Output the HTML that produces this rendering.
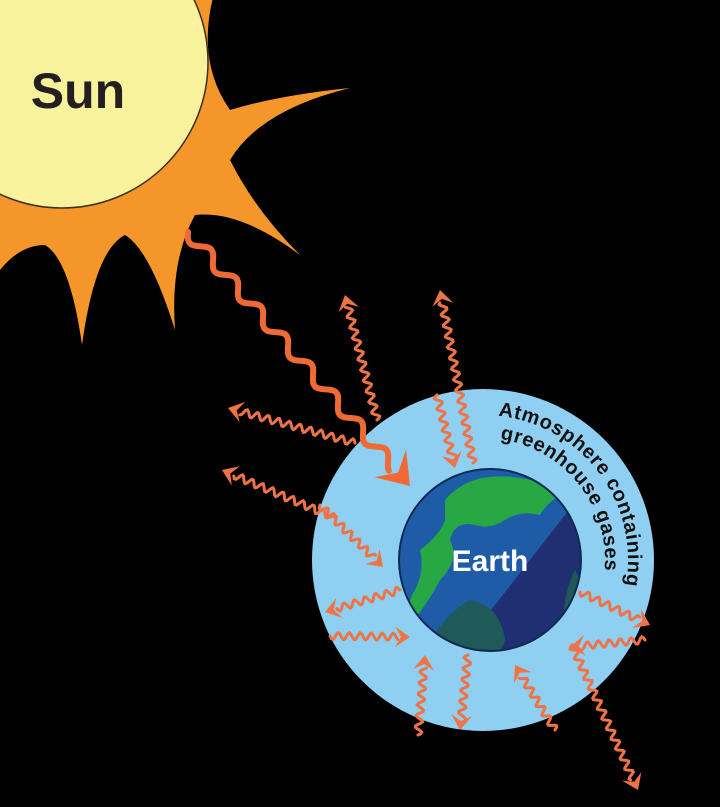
<!DOCTYPE html>
<html><head><meta charset="utf-8"><style>
html,body{margin:0;padding:0;background:#000;}
svg{display:block}
</style></head><body>
<svg id="scene" width="720" height="807" viewBox="0 0 720 807" xmlns="http://www.w3.org/2000/svg">
<rect width="720" height="807" fill="#000"/>
<g>
  <path fill="#f5962a" d="M0,-10 L215,-10 Q195,60 230,110 Q280,95 350,88 Q260,110 230,160 Q255,210 300,255 Q240,210 195,215 Q170,260 175,330 Q150,250 125,235 Q95,250 82,345 Q70,260 45,245 Q20,245 0,270 Z"/>
  <circle cx="62" cy="62" r="146" fill="#f9f29c" stroke="#3a3020" stroke-width="1.5"/>
  <text x="78" y="108" text-anchor="middle" font-family="Liberation Sans, sans-serif" font-weight="bold" font-size="50" fill="#231f20">Sun</text>
</g>
<g>
  <circle cx="483" cy="560" r="171" fill="#8fd0f2"/>
</g>
<defs>
  <clipPath id="ec"><circle cx="490" cy="560" r="91"/></clipPath>
  <path id="arc1" d="M 498.2 415.8 A 145 145 0 0 1 625.8 585.2"/>
  <path id="arc2" d="M 500 439.2 A 122 122 0 0 1 603.8 577"/>
</defs>
<g clip-path="url(#ec)">
  <rect x="395" y="465" width="190" height="190" fill="#1f5ca8"/>
  <polygon points="390,740 600,470 600,660" fill="#202f72"/>
  <path fill="#27a844" d="M445,500 Q470,470 520,478 Q550,482 560,495 Q545,505 540,515 Q520,510 505,520 Q490,530 475,525 Q455,520 450,540 Q460,560 440,580 Q430,600 410,625 Q405,605 415,590 Q425,570 420,550 Q440,535 445,520 Z"/>
  <path fill="#1f5a58" d="M430,640 Q450,610 470,600 Q500,605 505,640 Q500,660 470,660 Z"/>
  <path fill="#1f5a58" d="M575,570 Q560,600 565,640 Q585,630 590,600 Z"/>
</g>
<circle cx="490" cy="560" r="91" fill="none" stroke="#0d2a55" stroke-width="2"/>
<text x="490" y="571" text-anchor="middle" font-family="Liberation Sans, sans-serif" font-weight="bold" font-size="30" fill="#fff">Earth</text>
<text font-family="Liberation Sans, sans-serif" font-weight="bold" font-size="20" fill="#111"><textPath href="#arc1" textLength="238" lengthAdjust="spacing">Atmosphere containing</textPath></text>
<text font-family="Liberation Sans, sans-serif" font-weight="bold" font-size="20" fill="#111"><textPath href="#arc2" textLength="185" lengthAdjust="spacing">greenhouse gases</textPath></text>
<g id="arrows"></g>
</svg>
<script>
// [x1,y1,x2,y2] tail -> head
var arrowTails=[[377,420],[473,463],[355,443],[335,518],[437,395],[320,505],[400,590],[330,636],[418,735],[468,655],[555,730],[580,592],[645,640],[572,645]];
var arrowHeads=[[345,295],[440,290],[228,408],[222,470],[455,468],[383,567],[325,612],[410,637],[425,655],[460,730],[515,665],[650,625],[570,647],[638,790]];
var NS="http://www.w3.org/2000/svg";
var g=document.getElementById('arrows');
function wave(x1,y1,x2,y2,amp,wl,w,col,head,name){
  var dx=x2-x1,dy=y2-y1,L=Math.hypot(dx,dy),ux=dx/L,uy=dy/L,nx=-uy,ny=ux;
  var end=L-head*0.8,d='';
  for(var s=0;s<=end;s+=1.5){
    var o=amp*Math.sin(s/wl*2*Math.PI);
    d+=(s?'L':'M')+(x1+ux*s+nx*o).toFixed(1)+','+(y1+uy*s+ny*o).toFixed(1);
  }
  var p=document.createElementNS(NS,'path');
  p.setAttribute('d',d);p.setAttribute('fill','none');p.setAttribute('stroke',col);
  p.setAttribute('stroke-width',w);p.setAttribute('stroke-linecap','round');
  
  
  g.appendChild(p);
  var hb=head,hw=head*0.7;
  var bx=x2-ux*hb,by=y2-uy*hb;
  var h=document.createElementNS(NS,'polygon');
  h.setAttribute('points',x2+','+y2+' '+(bx+nx*hw)+','+(by+ny*hw)+' '+(x2-ux*hb*0.6)+','+(y2-uy*hb*0.6)+' '+(bx-nx*hw)+','+(by-ny*hw));
  h.setAttribute('fill',col);
  
  
  g.appendChild(h);
}
wave(188,232,410,486,6,38,6,'#ef6a35',30,'incoming-sunlight-arrow');
for(var i=0;i<arrowTails.length;i++){
  wave(arrowTails[i][0],arrowTails[i][1],arrowHeads[i][0],arrowHeads[i][1],3.5,11,3,'#ee7448',15,'heat-arrow-'+(i+1));
}
</script>
</body></html>
